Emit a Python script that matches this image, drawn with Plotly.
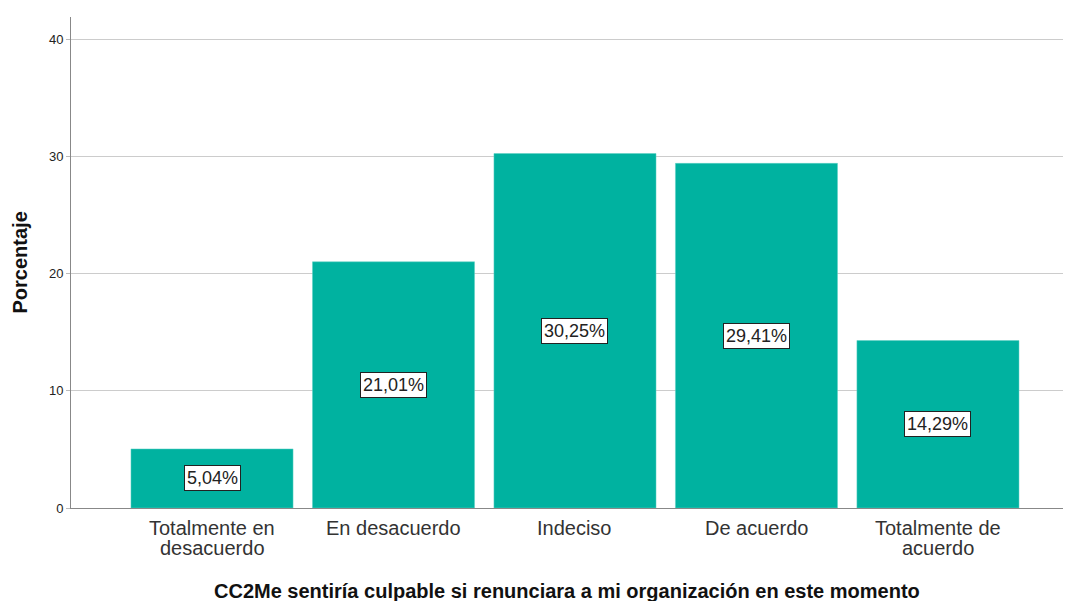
import plotly.graph_objects as go

categories = ["Totalmente en<br>desacuerdo", "En desacuerdo", "Indeciso", "De acuerdo", "Totalmente de<br>acuerdo"]
percentages = [5.04, 21.01, 30.25, 29.41, 14.29]
value_labels = ["5,04%", "21,01%", "30,25%", "29,41%", "14,29%"]
y_ticks = [0, 10, 20, 30, 40]
x_title = "CC2Me sentiría culpable si renunciara a mi organización en este momento"
y_title = "Porcentaje"

FONT = "Liberation Sans, Arial"
x_pos = list(range(len(categories)))

fig = go.Figure()
fig.add_trace(go.Bar(
    x=x_pos,
    y=percentages,
    width=0.893,
    marker=dict(color="#00B2A0", line=dict(color="#5fd0c4", width=0.5)),
    hoverinfo="skip",
))

# value boxes in the middle of each bar
for xi, v, lab in zip(x_pos, percentages, value_labels):
    fig.add_annotation(
        x=xi, y=v / 2, text=lab, showarrow=False,
        font=dict(family=FONT, size=18, color="#222"),
        bgcolor="white", bordercolor="#222", borderwidth=1, borderpad=2,
    )

# category labels, one annotation per line for tight line spacing
for xi, cat in zip(x_pos, categories):
    for li, line in enumerate(cat.split("<br>")):
        fig.add_annotation(
            x=xi, xref="x", y=0, yref="paper", yanchor="top",
            yshift=-7 - 20 * li, text=line, showarrow=False,
            font=dict(family=FONT, size=20, color="#333"),
        )

# axis titles
fig.add_annotation(
    x=0.5, xref="paper", y=0, yref="paper", yanchor="top", yshift=-70,
    text=f"<b>{x_title}</b>", showarrow=False,
    font=dict(family=FONT, size=20, color="#111"),
)
fig.add_annotation(
    x=(19 - 71) / 992, xref="paper", xanchor="center",
    y=0.5, yref="paper", yanchor="middle", textangle=-90,
    text=f"<b>{y_title}</b>", showarrow=False,
    font=dict(family=FONT, size=20, color="#111"),
)

fig.update_layout(
    width=1065, height=601,
    margin=dict(l=71, r=2, t=17, b=93),
    plot_bgcolor="white", paper_bgcolor="white",
    showlegend=False,
    font=dict(family=FONT, color="#222"),
    xaxis=dict(
        range=[-0.777, 4.689],
        showgrid=False, zeroline=False,
        showline=True, linecolor="#888", linewidth=1,
        ticks="", showticklabels=False,
    ),
    yaxis=dict(
        range=[0, 41.9], tickvals=y_ticks,
        showgrid=True, gridcolor="#cccccc", gridwidth=1,
        zeroline=False,
        showline=True, linecolor="#888", linewidth=1,
        ticks="outside", ticklen=4, tickcolor="#bbb",
        tickfont=dict(size=13, color="#222"),
    ),
)

fig.write_html("out.html")
